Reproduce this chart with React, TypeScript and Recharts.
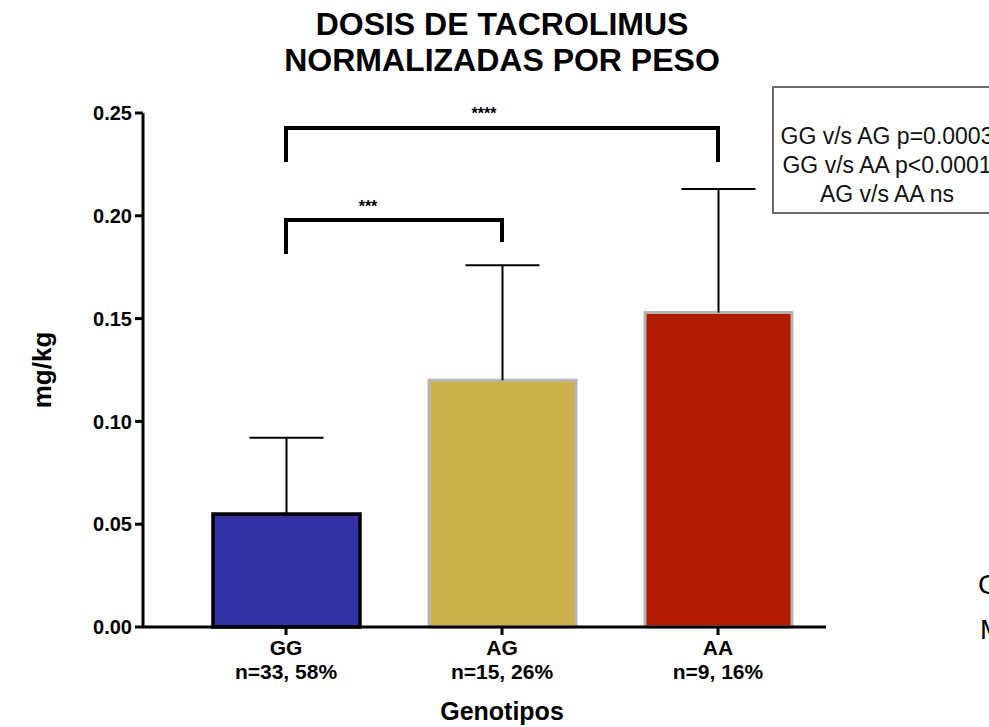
import React from "react";
import {
  BarChart,
  Bar,
  Cell,
  XAxis,
  YAxis,
  ErrorBar,
  ReferenceLine,
} from "recharts";

const genotypes = ["GG", "AG", "AA"];
const sampleLabels = ["n=33, 58%", "n=15, 26%", "n=9, 16%"];
const meanDose = [0.055, 0.12, 0.153];
const sdDose = [0.037, 0.056, 0.06];
const yTicks = [0, 0.05, 0.1, 0.15, 0.2, 0.25];
const statLines = ["GG v/s AG p=0.0003", "GG v/s AA p<0.0001", "AG v/s AA ns"];

const barColors = ["#3333a6", "#ccb04b", "#b11b00"];
const barStrokes = ["#000000", "#b5b5b5", "#b5b5b5"];

const data = genotypes.map((g, i) => ({
  genotype: g,
  dose: meanDose[i],
  // only the upper whisker is shown
  err: [0, sdDose[i]],
}));

const FONT = '"Liberation Sans", Arial, Helvetica, sans-serif';
const PAD_LEFT = 35;

function GenoTick(props: any) {
  const { x, y, payload } = props;
  const idx = genotypes.indexOf(payload.value);
  return (
    <g>
      <text x={x} y={y} dy={18} textAnchor="middle" fontFamily={FONT} fontWeight="bold" fontSize={21} fill="#000">
        {payload.value}
      </text>
      <text x={x} y={y} dy={42} textAnchor="middle" fontFamily={FONT} fontWeight="bold" fontSize={21} fill="#000">
        {sampleLabels[idx]}
      </text>
    </g>
  );
}

function Stars(text: string, dx: number, dy: number) {
  return (props: any) => {
    const vb = props.viewBox;
    return (
      <text
        x={vb.x + vb.width / 2 + dx}
        y={vb.y + dy}
        textAnchor="middle"
        fontFamily={FONT}
        fontWeight="bold"
        fontSize={16}
        fill="#000"
      >
        {text}
      </text>
    );
  };
}

const bracketStyle = { stroke: "#000", strokeWidth: 4, strokeLinecap: "square" as const };

export default function App() {
  return (
    <div style={{ position: "absolute", left: 0, top: 0, width: 989, height: 727, overflow: "hidden", background: "#fff" }}>
      <style>{`.recharts-errorBar line:nth-of-type(3){display:none}`}</style>
      <div
        style={{
          position: "absolute",
          left: 0,
          top: 6,
          width: 1004,
          textAlign: "center",
          fontFamily: FONT,
          fontWeight: "bold",
          fontSize: 32,
          lineHeight: "36px",
          color: "#000",
        }}
      >
        DOSIS DE TACROLIMUS
        <br />
        NORMALIZADAS POR PESO
      </div>

      <BarChart
        width={989}
        height={727}
        data={data}
        margin={{ top: 113, right: 163, left: 0, bottom: 0 }}
        barSize={147}
      >
        <XAxis
          dataKey="genotype"
          height={100}
          padding={{ left: PAD_LEFT, right: 0 }}
          axisLine={{ stroke: "#000", strokeWidth: 3 }}
          tickLine={{ stroke: "#000", strokeWidth: 3 }}
          tickSize={8}
          tick={<GenoTick />}
          interval={0}
          label={{
            value: "Genotipos",
            content: (p: any) => (
              <text
                x={p.viewBox.x + PAD_LEFT + (p.viewBox.width - PAD_LEFT) / 2}
                y={p.viewBox.y + 93}
                textAnchor="middle"
                fontFamily={FONT}
                fontWeight="bold"
                fontSize={25}
                fill="#000"
              >
                Genotipos
              </text>
            ),
          }}
        />
        <YAxis
          width={143}
          domain={[0, 0.25]}
          ticks={yTicks}
          tickFormatter={(v: number) => v.toFixed(2)}
          axisLine={{ stroke: "#000", strokeWidth: 3 }}
          tickLine={{ stroke: "#000", strokeWidth: 3 }}
          tickSize={8}
          tickMargin={3}
          tick={{ fontFamily: FONT, fontWeight: "bold", fontSize: 20, fill: "#000" }}
          label={{
            value: "mg/kg",
            content: (p: any) => {
              const cx = p.viewBox.x + 42;
              const cy = p.viewBox.y + p.viewBox.height / 2;
              return (
                <text
                  transform={`translate(${cx},${cy}) rotate(-90)`}
                  textAnchor="middle"
                  dominantBaseline="central"
                  fontFamily={FONT}
                  fontWeight="bold"
                  fontSize={26}
                  fill="#000"
                >
                  mg/kg
                </text>
              );
            },
          }}
        />
        <Bar dataKey="dose" isAnimationActive={false}>
          {data.map((d, i) => (
            <Cell key={d.genotype} fill={barColors[i]} stroke={barStrokes[i]} strokeWidth={i === 0 ? 3.5 : 3} />
          ))}
          <ErrorBar dataKey="err" direction="y" width={37} stroke="#000" strokeWidth={2} />
        </Bar>

        {/* GG vs AA bracket */}
        <ReferenceLine
          segment={[{ x: "GG", y: 0.2427 }, { x: "AA", y: 0.2427 }]}
          {...bracketStyle}
          label={{ value: "****", content: Stars("****", -18, -9) }}
        />
        <ReferenceLine segment={[{ x: "GG", y: 0.2427 }, { x: "GG", y: 0.2271 }]} {...bracketStyle} />
        <ReferenceLine segment={[{ x: "AA", y: 0.2427 }, { x: "AA", y: 0.2271 }]} {...bracketStyle} />

        {/* GG vs AG bracket */}
        <ReferenceLine
          segment={[{ x: "GG", y: 0.198 }, { x: "AG", y: 0.198 }]}
          {...bracketStyle}
          label={{ value: "***", content: Stars("***", -26, -8) }}
        />
        <ReferenceLine segment={[{ x: "GG", y: 0.198 }, { x: "GG", y: 0.1824 }]} {...bracketStyle} />
        <ReferenceLine segment={[{ x: "AG", y: 0.198 }, { x: "AG", y: 0.1882 }]} {...bracketStyle} />
      </BarChart>

      <div
        style={{
          position: "absolute",
          left: 772,
          top: 86,
          width: 226,
          height: 124,
          border: "2px solid #6a6a6a",
          boxSizing: "content-box",
          fontFamily: FONT,
          fontSize: 23,
          lineHeight: "29px",
          color: "#111",
          textAlign: "center",
        }}
      >
        <div style={{ height: 34 }} />
        {statLines.map((s) => (
          <div key={s} style={{ whiteSpace: "nowrap" }}>
            {s}
          </div>
        ))}
      </div>

      <div style={{ position: "absolute", left: 978, top: 571, fontFamily: FONT, fontSize: 28, lineHeight: "28px", color: "#000" }}>C</div>
      <div style={{ position: "absolute", left: 980, top: 616, fontFamily: FONT, fontSize: 28, lineHeight: "28px", color: "#000" }}>M</div>
    </div>
  );
}
